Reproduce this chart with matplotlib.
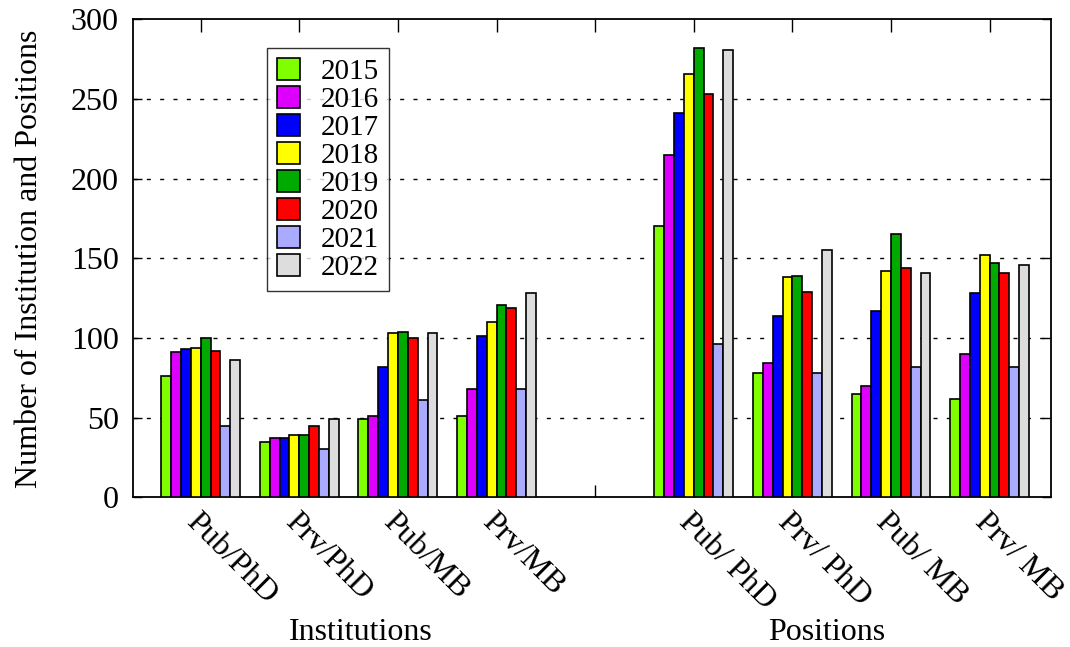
import numpy as np
import matplotlib
matplotlib.use("Agg")
import matplotlib.pyplot as plt

plt.rcParams['font.family'] = ['Liberation Serif', 'DejaVu Serif']

years = ["2015", "2016", "2017", "2018", "2019", "2020", "2021", "2022"]
groups = ["Pub/PhD", "Prv/PhD", "Pub/MB", "Prv/MB",
          "Pub/ PhD", "Prv/ PhD", "Pub/ MB", "Prv/ MB"]
group_pos = [0, 1, 2, 3, 5, 6, 7, 8]

# one list per year, values in group order
v2015 = [76, 35, 49, 51, 170, 78, 65, 62]
v2016 = [91, 37, 51, 68, 215, 84, 70, 90]
v2017 = [93, 37, 82, 101, 241, 114, 117, 128]
v2018 = [94, 39, 103, 110, 266, 138, 142, 152]
v2019 = [100, 39, 104, 121, 282, 139, 165, 147]
v2020 = [92, 45, 100, 119, 253, 129, 144, 141]
v2021 = [45, 30, 61, 68, 96, 78, 82, 82]
v2022 = [86, 49, 103, 128, 281, 155, 141, 146]
series = [v2015, v2016, v2017, v2018, v2019, v2020, v2021, v2022]

colors = ["#7fff00", "#dd00ff", "#0000ff", "#ffff00",
          "#00aa00", "#ff0000", "#aaaaff", "#dddddd"]

fs = 23

fig = plt.figure(figsize=(10.7, 6.47), dpi=100)
ax = fig.add_axes([0.124, 0.2314, 0.858, 0.7386])

width = 0.1
x = np.array(group_pos, dtype=float)
for i, (vals, c, yr) in enumerate(zip(series, colors, years)):
    off = (i - 3.5) * width
    ax.bar(x + off, vals, width, color=c, edgecolor="black",
           linewidth=1.2, label=yr, zorder=3)

ax.set_xlim(-0.69, 8.62)
ax.set_ylim(0, 300)
ax.set_yticks(range(0, 301, 50))
ax.set_xticks([0, 1, 2, 3, 4, 5, 6, 7, 8])
ax.set_xticklabels(groups[:4] + [""] + groups[4:], rotation=-45,
                   ha="left", va="top", rotation_mode="anchor")

ax.tick_params(axis="both", which="major", labelsize=fs, direction="in",
               top=True, right=True, width=1)
ax.tick_params(axis="x", length=9, pad=7)
ax.tick_params(axis="y", length=6.5, pad=10)

for y in range(50, 300, 50):
    ax.axhline(y, color="black", linewidth=1.0, linestyle=(0, (2.9, 6.7)), zorder=1)

for s in ax.spines.values():
    s.set_linewidth(1.3)

ax.set_ylabel("Number of Institution and Positions", fontsize=fs, labelpad=19)

fig.text(361 / 1070, 1 - 632 / 647, "Institutions", fontsize=fs,
         ha="center", va="center")
fig.text(827 / 1070, 1 - 632 / 647, "Positions", fontsize=fs,
         ha="center", va="center")

leg = ax.legend(loc="upper left", bbox_to_anchor=(0.146, 0.94),
                borderaxespad=0, fontsize=21, frameon=True, fancybox=False,
                handlelength=0.8, handleheight=0.75, handletextpad=0.7,
                labelspacing=0.04, borderpad=0.35)
leg.get_frame().set_edgecolor("black")
leg.get_frame().set_linewidth(1.0)

fig.savefig("out.png", dpi=100)
